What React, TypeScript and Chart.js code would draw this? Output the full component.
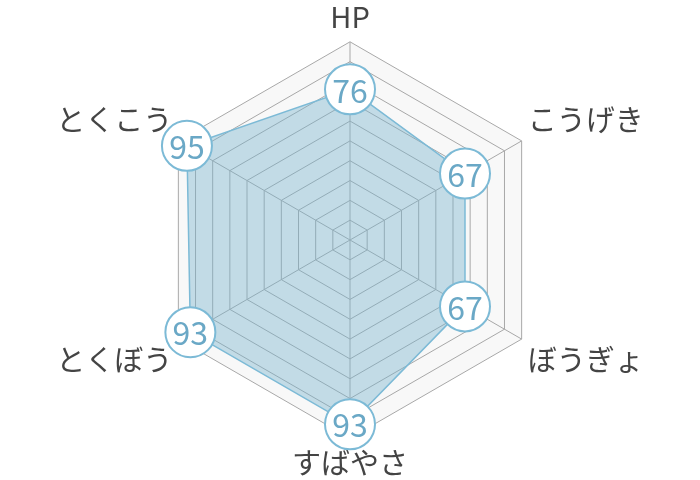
import React, { useEffect, useRef } from "react";
import { Chart, registerables } from "chart.js";

Chart.register(...registerables);

const categories = ["HP", "こうげき", "ぼうぎょ", "すばやさ", "とくぼう", "とくこう"];
const values = [76, 67, 67, 93, 93, 95];
const scaleMax = 100;
const scaleStep = 10;

const FONT = "'Noto Sans CJK JP', 'Noto Sans', sans-serif";

const bgPlugin = {
  id: "radarBg",
  beforeDraw(chart: any) {
    const scale = chart.scales.r;
    if (!scale) return;
    const ctx = chart.ctx;
    const d = scale.getDistanceFromCenterForValue(scaleMax);
    ctx.save();
    ctx.beginPath();
    for (let i = 0; i < categories.length; i++) {
      const p = scale.getPointPosition(i, d);
      if (i === 0) ctx.moveTo(p.x, p.y);
      else ctx.lineTo(p.x, p.y);
    }
    ctx.closePath();
    ctx.fillStyle = "#f8f8f8";
    ctx.fill();
    ctx.restore();
  },
};

const valueLabelPlugin = {
  id: "valueLabels",
  afterDatasetsDraw(chart: any) {
    const ctx = chart.ctx;
    const meta = chart.getDatasetMeta(0);
    ctx.save();
    ctx.font = `32px ${FONT}`;
    ctx.fillStyle = "#6aa8c6";
    ctx.textAlign = "center";
    ctx.textBaseline = "middle";
    meta.data.forEach((el: any, i: number) => {
      ctx.fillText(String(values[i]), el.x, el.y + 1);
    });
    ctx.restore();
  },
};

export default function App() {
  const ref = useRef<HTMLCanvasElement | null>(null);
  useEffect(() => {
    if (!ref.current) return;
    const chart = new Chart(ref.current, {
      type: "radar",
      data: {
        labels: categories,
        datasets: [
          {
            data: values,
            backgroundColor: "rgba(120,178,206,0.42)",
            borderColor: "#7cbad6",
            borderWidth: 1.5,
            pointRadius: 25,
            pointHoverRadius: 25,
            pointBackgroundColor: "#ffffff",
            pointBorderColor: "#7cbad6",
            pointBorderWidth: 2,
          },
        ],
      },
      options: {
        animation: false,
        responsive: false,
        maintainAspectRatio: false,
        plugins: { legend: { display: false }, tooltip: { enabled: false } },
        scales: {
          r: {
            min: 0,
            max: scaleMax,
            ticks: { display: false, stepSize: scaleStep },
            grid: { color: "#a8a8a8", lineWidth: 1 },
            angleLines: { color: "#a8a8a8", lineWidth: 1 },
            pointLabels: {
              font: { family: FONT, size: 29 },
              color: "#444444",
              padding: 7,
            },
          },
        },
      },
      plugins: [bgPlugin, valueLabelPlugin],
    });
    return () => chart.destroy();
  }, []);
  return (
    <div style={{ position: "fixed", left: 0, top: 0, width: 700, height: 480, background: "#fff" }}>
      <canvas ref={ref} width={700} height={480} style={{ width: 700, height: 480 }} />
    </div>
  );
}
